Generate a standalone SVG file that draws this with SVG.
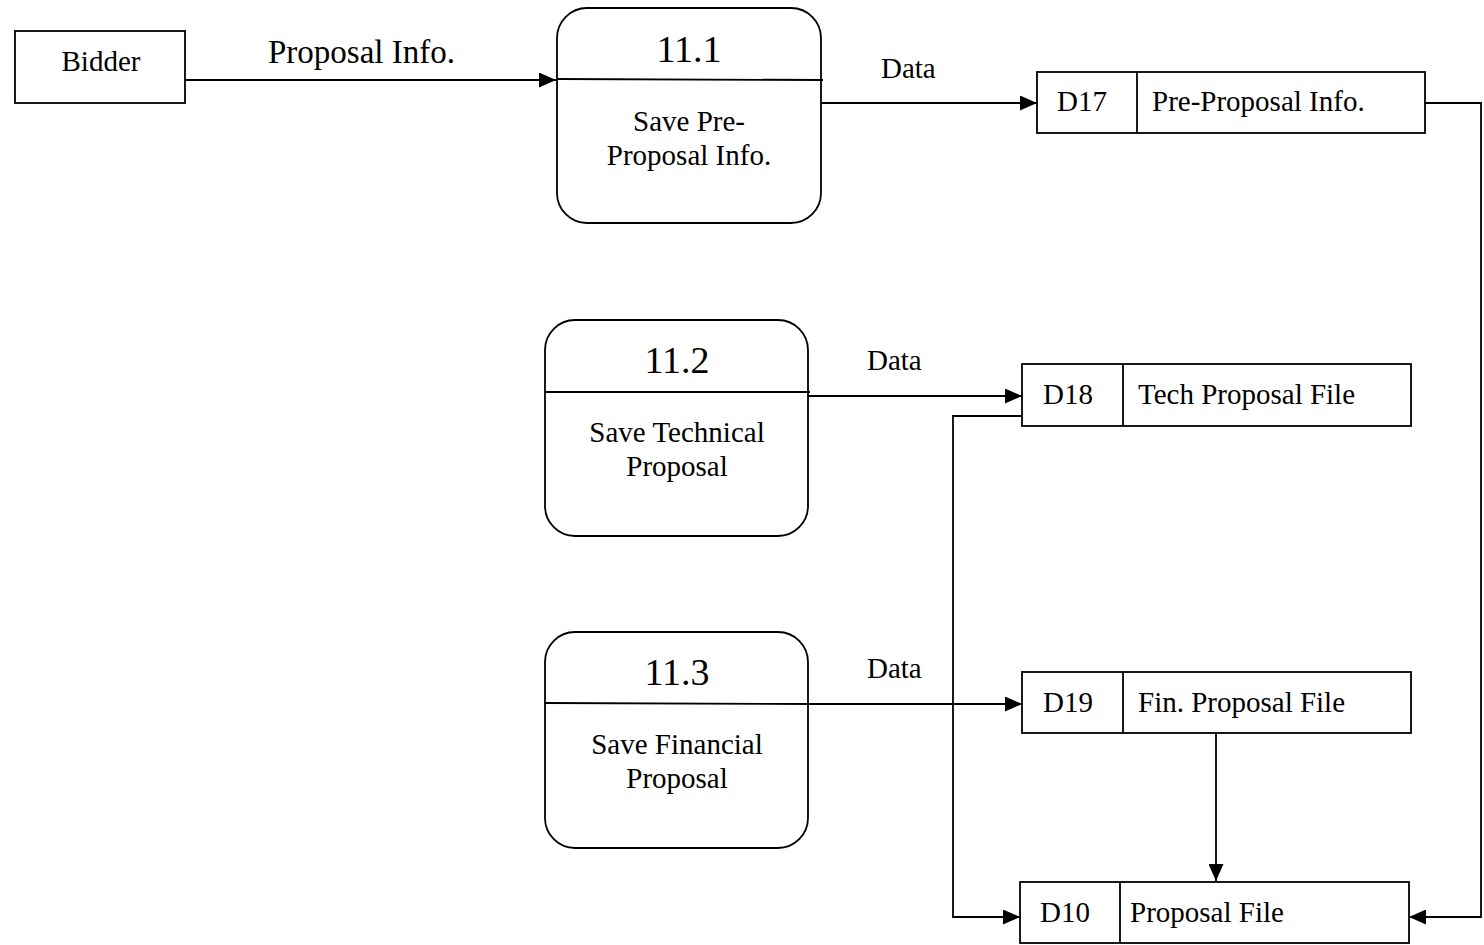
<svg xmlns="http://www.w3.org/2000/svg" width="1484" height="945" viewBox="0 0 1484 945">
  <style>
    .box { fill: #fff; stroke: #000; stroke-width: 1.8; }
    .ln { fill: none; stroke: #000; stroke-width: 1.8; }
    .t { font-family: "Liberation Serif", "Times New Roman", serif; fill: #000; }
    .lbl { font-size: 29px; }
    .big { font-size: 33px; }
    .num { font-size: 38px; }
  </style>
  <defs>
    <marker id="arrow" viewBox="0 0 17 15" refX="17" refY="7.5" markerWidth="17" markerHeight="15" markerUnits="userSpaceOnUse" orient="auto">
      <path d="M0,0 L17,7.5 L0,15 Z" fill="#000"/>
    </marker>
  </defs>
  <rect width="1484" height="945" fill="#fff"/>

  <!-- external entity -->
  <g id="bidder">
    <rect class="box" x="15" y="31" width="170" height="72"/>
    <text class="t lbl" x="101" y="71" text-anchor="middle">Bidder</text>
  </g>

  <!-- processes -->
  <g id="p11-1">
    <rect class="box" x="557" y="8" width="264" height="215" rx="30"/>
    <line class="ln" x1="557" y1="79" x2="823" y2="80"/>
    <text class="t num" x="689" y="62" text-anchor="middle">11.1</text>
    <text class="t lbl" x="689" y="131" text-anchor="middle">Save Pre-</text>
    <text class="t lbl" x="689" y="165" text-anchor="middle">Proposal Info.</text>
  </g>
  <g id="p11-2">
    <rect class="box" x="545" y="320" width="263" height="216" rx="30"/>
    <line class="ln" x1="545" y1="392" x2="810" y2="392"/>
    <text class="t num" x="677" y="373" text-anchor="middle">11.2</text>
    <text class="t lbl" x="677" y="442" text-anchor="middle">Save Technical</text>
    <text class="t lbl" x="677" y="476" text-anchor="middle">Proposal</text>
  </g>
  <g id="p11-3">
    <rect class="box" x="545" y="632" width="263" height="216" rx="30"/>
    <line class="ln" x1="545" y1="703" x2="810" y2="704"/>
    <text class="t num" x="677" y="685" text-anchor="middle">11.3</text>
    <text class="t lbl" x="677" y="754" text-anchor="middle">Save Financial</text>
    <text class="t lbl" x="677" y="788" text-anchor="middle">Proposal</text>
  </g>

  <!-- data stores -->
  <g id="d17">
    <rect class="box" x="1037" y="72" width="388" height="61"/>
    <line class="ln" x1="1137" y1="72" x2="1137" y2="133"/>
    <text class="t lbl" x="1057" y="111">D17</text>
    <text class="t lbl" x="1152" y="111">Pre-Proposal Info.</text>
  </g>
  <g id="d18">
    <rect class="box" x="1022" y="364" width="389" height="62"/>
    <line class="ln" x1="1123" y1="364" x2="1123" y2="426"/>
    <text class="t lbl" x="1043" y="404">D18</text>
    <text class="t lbl" x="1138" y="404">Tech Proposal File</text>
  </g>
  <g id="d19">
    <rect class="box" x="1022" y="672" width="389" height="61"/>
    <line class="ln" x1="1123" y1="672" x2="1123" y2="733"/>
    <text class="t lbl" x="1043" y="712">D19</text>
    <text class="t lbl" x="1138" y="712">Fin. Proposal File</text>
  </g>
  <g id="d10">
    <rect class="box" x="1020" y="882" width="389" height="61"/>
    <line class="ln" x1="1120" y1="882" x2="1120" y2="943"/>
    <text class="t lbl" x="1040" y="922">D10</text>
    <text class="t lbl" x="1130" y="922">Proposal File</text>
  </g>

  <!-- data flows -->
  <g id="connectors">
    <line class="ln" x1="185" y1="80" x2="556" y2="80" stroke-width="1.4" marker-end="url(#arrow)"/>
    <line class="ln" x1="185" y1="80" x2="233" y2="80" stroke-width="2.4"/>
    <line class="ln" x1="515" y1="80" x2="545" y2="80" stroke-width="2.4"/>
    <line class="ln" x1="821" y1="103" x2="1037" y2="103" stroke-width="2.8" marker-end="url(#arrow)"/>
    <line class="ln" x1="808" y1="396" x2="1022" y2="396" marker-end="url(#arrow)"/>
    <line class="ln" x1="808" y1="704" x2="1022" y2="704" marker-end="url(#arrow)"/>
    <polyline class="ln" points="1425,103 1481,103 1481,917 1409,917" marker-end="url(#arrow)"/>
    <polyline class="ln" points="1022,416 953,416 953,917 1020,917" marker-end="url(#arrow)"/>
    <line class="ln" x1="1216" y1="733" x2="1216" y2="881" marker-end="url(#arrow)"/>
  </g>

  <!-- flow labels -->
  <g id="labels">
    <text class="t big" x="268" y="63">Proposal Info.</text>
    <text class="t lbl" x="881" y="78">Data</text>
    <text class="t lbl" x="867" y="370">Data</text>
    <text class="t lbl" x="867" y="678">Data</text>
  </g>
</svg>
